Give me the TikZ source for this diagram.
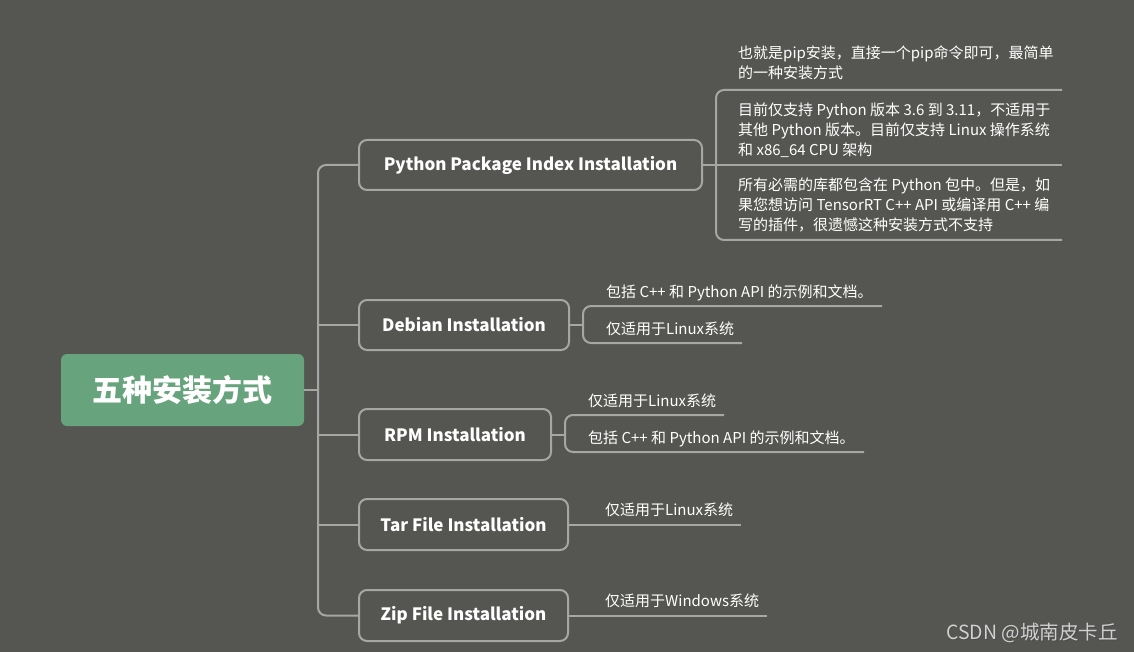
\documentclass[tikz,border=0pt]{standalone}
\usepackage{fontspec}
\setmainfont{Noto Sans CJK SC}
\definecolor{bgc}{HTML}{555652}
\definecolor{rootc}{HTML}{67A37C}
\definecolor{linec}{HTML}{A6A6A4}
\definecolor{wmc}{HTML}{D0D0D0}
\begin{document}
\begin{tikzpicture}[x=1pt,y=-1pt,
  conn/.style={draw=linec,line width=2pt},
  rootbox/.style={fill=rootc,rounded corners=6pt,text=white,font=\fontsize{30}{36}\selectfont\bfseries,minimum width=243pt,minimum height=72pt,inner sep=0pt},
  branchbox/.style={draw=linec,line width=2pt,rounded corners=8pt,text=white,font=\fontsize{17}{22}\selectfont\bfseries,minimum height=50pt,inner sep=0pt},
  leaftext/.style={text=white,font=\fontsize{15}{20}\selectfont,align=left,inner sep=0pt,anchor=base west},
  ]
\useasboundingbox (0,0) rectangle (1134,652);
\fill[bgc] (0,0) rectangle (1134,652);

% root
\node[rootbox] (root) at (182.5,390) {五种安装方式};
\coordinate (tr) at (318,390);

% branches
\node[branchbox,minimum width=343pt] (b1) at (530.5,165) {Python Package Index Installation};
\node[branchbox,minimum width=210pt] (b2) at (464,325) {Debian Installation};
\node[branchbox,minimum width=192pt,minimum height=51pt] (b3) at (455,434.5) {RPM Installation};
\node[branchbox,minimum width=209pt,minimum height=51pt] (b4) at (463.5,524.5) {Tar File Installation};
\node[branchbox,minimum width=209pt,minimum height=51pt] (b5) at (463.5,615.5) {Zip File Installation};

% trunk
\draw[conn] (root.east) -- (tr);
\draw[conn,rounded corners=8pt] (b1.west) -| (tr) |- (b5.west);
\draw[conn] (b2.west -| tr) -- (b2.west);
\draw[conn] (b3.west -| tr) -- (b3.west);
\draw[conn] (b4.west -| tr) -- (b4.west);

% Python leaves (base = baseline of last line)
\node[leaftext] (p1) at (738,79) {也就是pip安装，直接一个pip命令即可，最简单\\的一种安装方式};
\node[leaftext] (p2) at (738,156) {目前仅支持 Python 版本 3.6 到 3.11，不适用于\\其他 Python 版本。目前仅支持 Linux 操作系统\\和 x86\_64 CPU 架构};
\node[leaftext] (p3) at (738,231) {所有必需的库都包含在 Python 包中。但是，如\\果您想访问 TensorRT C++ API 或编译用 C++ 编\\写的插件，很遗憾这种安装方式不支持};
\coordinate (p1u) at (1062,90);
\coordinate (p2u) at (1062,165);
\coordinate (p3u) at (1062,240);
\coordinate (pb) at (716,165);
\draw[conn] (b1.east) -- (p2u);
\draw[conn,rounded corners=8pt] (p1u) -| (pb) |- (p3u);

% Debian leaves
\node[leaftext] (d1) at (606,297) {包括 C++ 和 Python API 的示例和文档。};
\node[leaftext] (d2) at (606,334) {仅适用于Linux系统};
\coordinate (d1u) at (882,306);
\coordinate (d2u) at (742,343);
\coordinate (db) at (583,325);
\draw[conn] (b2.east) -- (db);
\draw[conn,rounded corners=8pt] (d1u) -| (db) |- (d2u);

% RPM leaves
\node[leaftext] (r1) at (588,406) {仅适用于Linux系统};
\node[leaftext] (r2) at (588,443) {包括 C++ 和 Python API 的示例和文档。};
\coordinate (r1u) at (724,415);
\coordinate (r2u) at (864,452);
\coordinate (rb) at (565,434.5);
\draw[conn] (b3.east) -- (rb);
\draw[conn,rounded corners=8pt] (r1u) -| (rb) |- (r2u);

% Tar leaf
\node[leaftext] (t1) at (605,515) {仅适用于Linux系统};
\coordinate (t1u) at (741,524.5);
\draw[conn] (b4.east) -- (t1u);

% Zip leaf
\node[leaftext] (z1) at (605,606) {仅适用于Windows系统};
\coordinate (z1u) at (767,615.5);
\draw[conn] (b5.east) -- (z1u);

% watermark
\node[text=black!70,font=\fontsize{19.5}{22}\selectfont,anchor=base west,inner sep=0pt] (wms) at (947,640) {CSDN @城南皮卡丘};
\node[text=wmc,font=\fontsize{19.5}{22}\selectfont,anchor=base west,inner sep=0pt] (wm) at (946,639) {CSDN @城南皮卡丘};
\end{tikzpicture}
\end{document}
